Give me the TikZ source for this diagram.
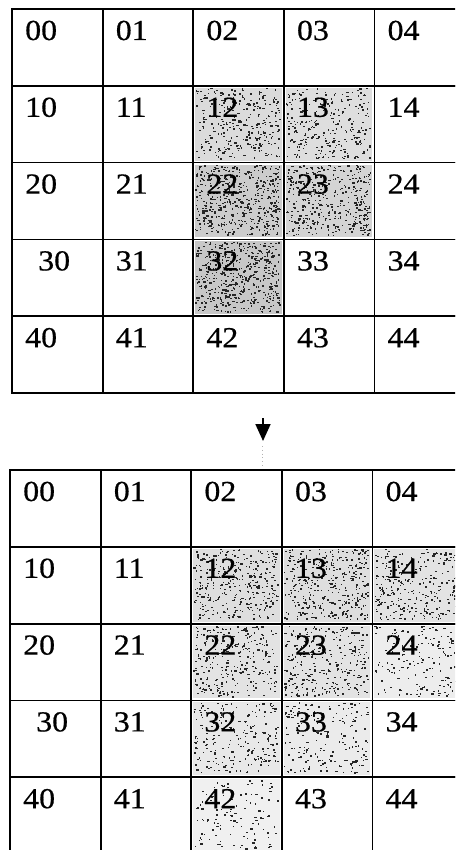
\documentclass[tikz,border=0pt]{standalone}
\usepackage{fontspec}
\setmainfont{Liberation Serif}
\newfontfamily\cellfont[FakeStretch=1.1,FakeBold=0.6]{Liberation Serif}
\usetikzlibrary{arrows.meta,calc}
\newcommand\mystip[6]{%
  \pgfmathsetmacro\sx{#1+#4*90.6+2}%
  \pgfmathsetmacro\sy{#2+#3*76.8+2}%
  \fill[black!#6] (\sx,\sy) rectangle ++(86.6,72.8);
  \foreach \k in {1,...,#5}{%
    \pgfmathsetmacro\px{\sx+rnd*84}%
    \pgfmathsetmacro\py{\sy+rnd*70}%
    \pgfmathsetmacro\pw{0.7+rnd*1.8}%
    \pgfmathsetmacro\ph{0.7+rnd*1.3}%
    \fill[black!85] (\px,\py) rectangle ++(\pw,\ph);
  }%
}
\begin{document}
\begin{tikzpicture}[x=1pt,y=-1pt,
  cell/.style={draw=black,line width=1.8pt,minimum width=90.6pt,minimum height=76.8pt,inner sep=0pt,outer sep=0pt,anchor=north west},
  lab/.style={font=\cellfont\fontsize{29}{29}\selectfont,inner sep=0pt,anchor=base west},
  arrowline/.style={line width=1.8pt,-{Triangle[width=15pt,length=17pt]}},
  trail/.style={gray!60,line width=0.6pt,dash pattern=on 0.8pt off 3pt}]
\useasboundingbox (0,0) rectangle (455,850);
\clip (0,0) rectangle (455,850);
\pgfmathsetseed{4711}
% stippled (shaded) cells, top grid
\mystip{12}{9}{1}{2}{300}{14}
\mystip{12}{9}{1}{3}{270}{13}
\mystip{12}{9}{2}{2}{480}{20}
\mystip{12}{9}{2}{3}{400}{17}
\mystip{12}{9}{3}{2}{500}{22}
% stippled cells, bottom grid
\mystip{10}{470}{1}{2}{340}{13}
\mystip{10}{470}{1}{3}{360}{13}
\mystip{10}{470}{1}{4}{290}{11}
\mystip{10}{470}{2}{2}{280}{11}
\mystip{10}{470}{2}{3}{290}{11}
\mystip{10}{470}{2}{4}{170}{7}
\mystip{10}{470}{3}{2}{220}{9}
\mystip{10}{470}{3}{3}{190}{8}
\mystip{10}{470}{4}{2}{120}{6}
% grids
\foreach \g/\gx/\gy in {t/12/9, b/10/470}{
  \foreach \r in {0,...,4}{
    \foreach \c in {0,...,4}{
      \node[cell] (\g\r\c) at ({\gx+\c*90.6},{\gy+\r*76.8}) {};
      \pgfmathsetmacro\off{and(\r==3,\c==0)?26:13}
      \node[lab] (\g L\r\c) at ($(\g\r\c.north west)+(\off,31)$) {\r\c};
    }
  }
}
% arrow between the grids
\coordinate (arrS) at (263,418);
\coordinate (arrE) at (263,441);
\draw[arrowline] (arrS) -- (arrE);
\coordinate (dotS) at (262,446);
\coordinate (dotE) at (262,466);
\draw[trail] (dotS) -- (dotE);
\end{tikzpicture}
\end{document}
